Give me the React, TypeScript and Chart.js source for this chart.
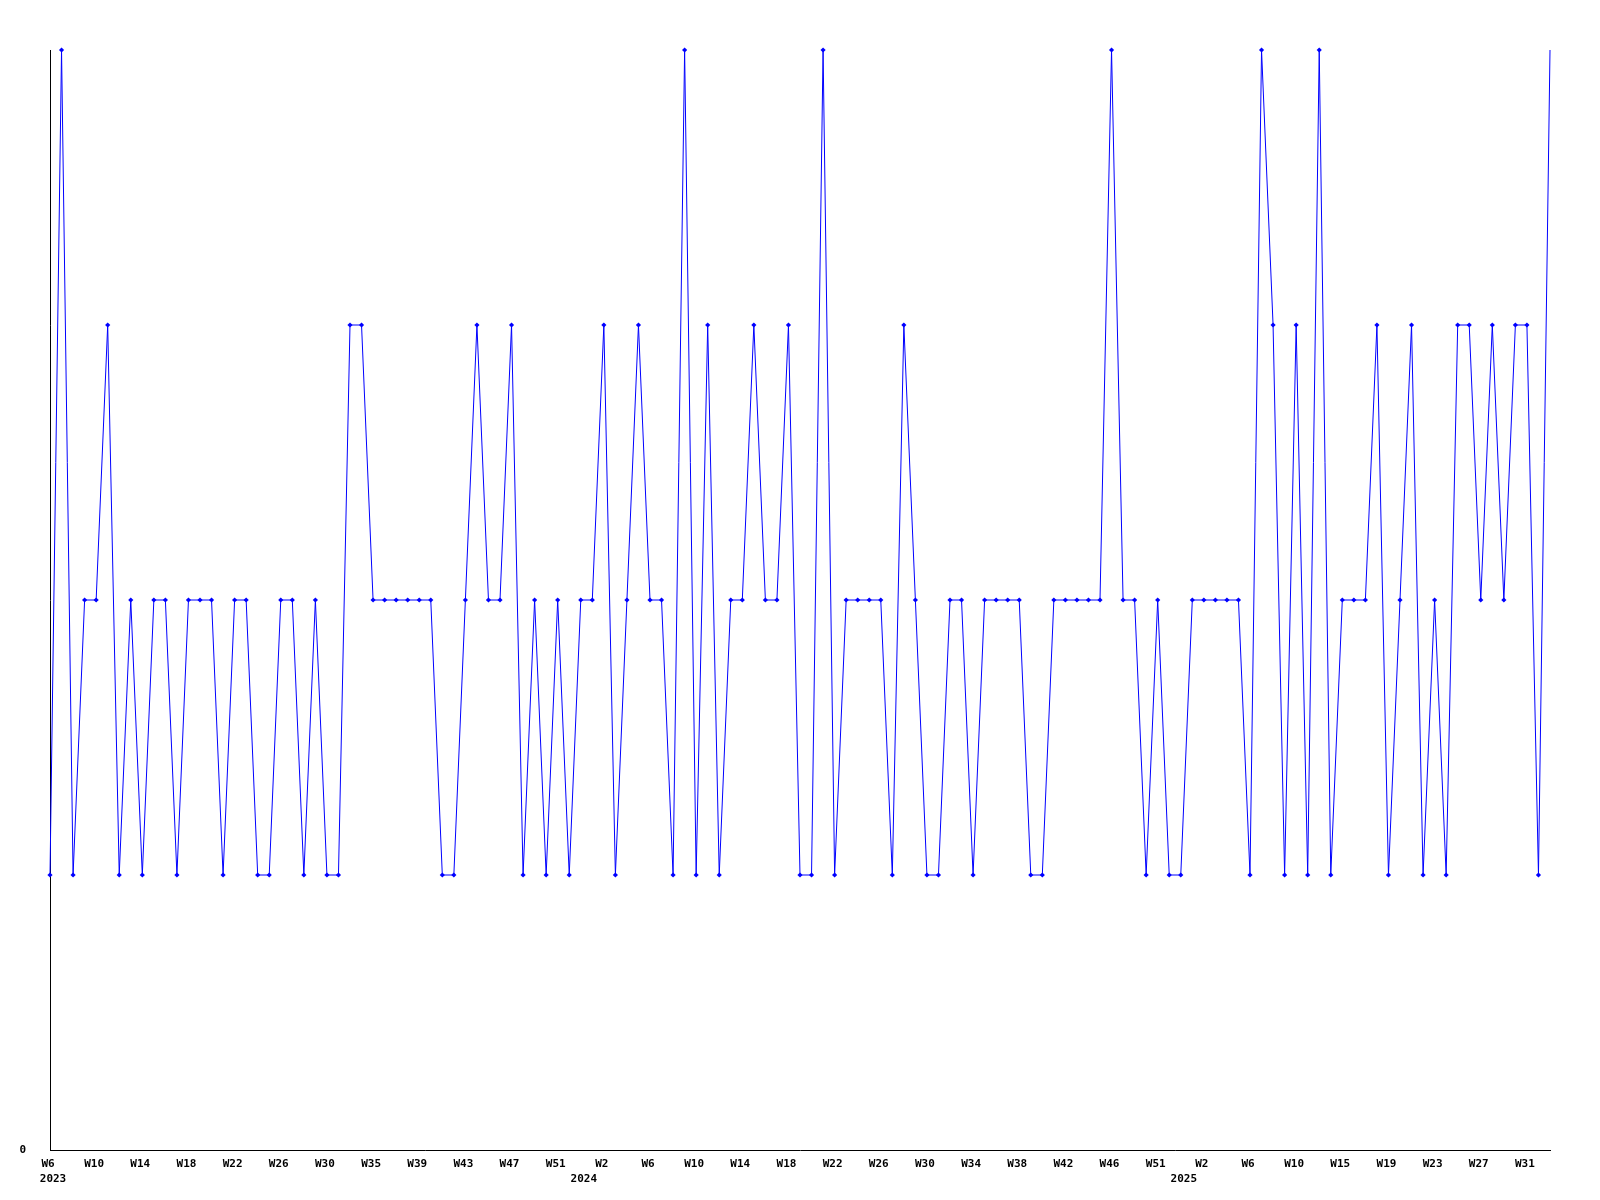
import { useEffect, useRef } from 'react';
import { Chart, registerables } from 'chart.js';

Chart.register(...registerables);

// Week categories (one per data point)
const weeks2023 = [
  'W6', 'W7', 'W8', 'W9', 'W10', 'W11', 'W12', 'W13', 'W14', 'W15', 'W16', 'W17', 'W18', 'W19',
  'W20', 'W21', 'W22', 'W23', 'W24', 'W25', 'W26', 'W27', 'W28', 'W29', 'W30', 'W31', 'W32',
  'W34', 'W35', 'W36', 'W37', 'W38', 'W39', 'W40', 'W41', 'W42', 'W43', 'W44', 'W45', 'W46',
  'W47', 'W48', 'W49', 'W50', 'W51', 'W52', 'W53',
];
const weeks2024 = [
  'W1', 'W2', 'W3', 'W4', 'W5', 'W6', 'W7', 'W8', 'W9', 'W10', 'W11', 'W12', 'W13', 'W14',
  'W15', 'W16', 'W17', 'W18', 'W19', 'W20', 'W21', 'W22', 'W23', 'W24', 'W25', 'W26', 'W27',
  'W28', 'W29', 'W30', 'W31', 'W32', 'W33', 'W34', 'W35', 'W36', 'W37', 'W38', 'W39', 'W40',
  'W41', 'W42', 'W43', 'W44', 'W45', 'W46', 'W47', 'W48', 'W50', 'W51', 'W52', 'W53',
];
const weeks2025 = [
  'W1', 'W2', 'W3', 'W4', 'W5', 'W6', 'W7', 'W8', 'W9', 'W10', 'W11', 'W12', 'W14', 'W15',
  'W16', 'W17', 'W18', 'W19', 'W20', 'W21', 'W22', 'W23', 'W24', 'W25', 'W26', 'W27', 'W28',
  'W29', 'W30', 'W31', 'W32', 'W33',
];
const weekLabels = [...weeks2023, ...weeks2024, ...weeks2025];

// Series values (one per week)
const values = [
  1, 4, 1, 2, 2, 3, 1, 2, 1, 2,
  2, 1, 2, 2, 2, 1, 2, 2, 1, 1,
  2, 2, 1, 2, 1, 1, 3, 3, 2, 2,
  2, 2, 2, 2, 1, 1, 2, 3, 2, 2,
  3, 1, 2, 1, 2, 1, 2, 2, 3, 1,
  2, 3, 2, 2, 1, 4, 1, 3, 1, 2,
  2, 3, 2, 2, 3, 1, 1, 4, 1, 2,
  2, 2, 2, 1, 3, 2, 1, 1, 2, 2,
  1, 2, 2, 2, 2, 1, 1, 2, 2, 2,
  2, 2, 4, 2, 2, 1, 2, 1, 1, 2,
  2, 2, 2, 2, 1, 4, 3, 1, 3, 1,
  4, 1, 2, 2, 2, 3, 1, 2, 3, 1,
  2, 1, 3, 3, 2, 3, 2, 3, 3, 1,
  4,
];

// Tick labels
const weekTickEvery = 4;
const yearLabelIndex = [0, 46, 98];
const yearLabelText = ['2023', '2024', '2025'];
const yTickValues = [0];
const yTickText = ['0'];

export default function App() {
  const ref = useRef<HTMLCanvasElement>(null);

  useEffect(() => {
    if (!ref.current) return;
    const font = { family: '"DejaVu Sans Mono", monospace', size: 11, weight: 'bold' as const };
    const chart = new Chart(ref.current, {
      type: 'line',
      data: {
        labels: weekLabels,
        datasets: [
          {
            data: values,
            borderColor: '#0000ff',
            backgroundColor: '#0000ff',
            borderWidth: 1,
            tension: 0,
            fill: false,
            clip: false,
            pointStyle: 'rectRot',
            pointRadius: (ctx: any) => (ctx.dataIndex === values.length - 1 ? 0 : 2.6),
            pointBorderWidth: 0,
            pointBackgroundColor: '#0000ff',
          },
        ],
      },
      options: {
        responsive: false,
        animation: false,
        devicePixelRatio: 1,
        layout: { padding: { top: 50, right: 50, left: 0, bottom: 0 } },
        plugins: {
          legend: { display: false },
          title: { display: false },
          tooltip: { enabled: false },
        },
        scales: {
          x: {
            type: 'category',
            position: 'bottom',
            weight: 0,
            offset: false,
            grid: { display: false, drawTicks: false },
            border: { display: true, color: '#000000', width: 1 },
            ticks: {
              autoSkip: false,
              maxRotation: 0,
              minRotation: 0,
              padding: 8,
              labelOffset: -2,
              color: '#000000',
              font,
              callback: (_v: any, index: number) =>
                index % weekTickEvery === 0 ? weekLabels[index] : '',
            },
            afterFit: (scale: any) => {
              scale.height = 22;
            },
          },
          x2: {
            type: 'category',
            position: 'bottom',
            weight: 1,
            offset: false,
            grid: { display: false, drawTicks: false },
            border: { display: false },
            ticks: {
              autoSkip: false,
              maxRotation: 0,
              minRotation: 0,
              padding: 1,
              labelOffset: 3,
              color: '#000000',
              font,
              callback: (_v: any, index: number) => {
                const k = yearLabelIndex.indexOf(index);
                return k >= 0 ? yearLabelText[k] : '';
              },
            },
            afterFit: (scale: any) => {
              scale.height = 28;
            },
          },
          y: {
            min: 0,
            max: 4,
            grid: { display: false, drawTicks: false },
            border: { display: true, color: '#000000', width: 1 },
            ticks: {
              stepSize: 1,
              padding: 24,
              color: '#000000',
              font,
              callback: (v: any) => {
                const k = yTickValues.indexOf(Number(v));
                return k >= 0 ? yTickText[k] : '';
              },
            },
            afterFit: (scale: any) => {
              scale.width = 50;
            },
          },
        },
      },
    });
    return () => chart.destroy();
  }, []);

  return (
    <div style={{ position: 'fixed', left: 0, top: 0, width: 1600, height: 1200, background: '#ffffff' }}>
      <canvas ref={ref} width={1600} height={1200} style={{ display: 'block', width: 1600, height: 1200 }} />
    </div>
  );
}
